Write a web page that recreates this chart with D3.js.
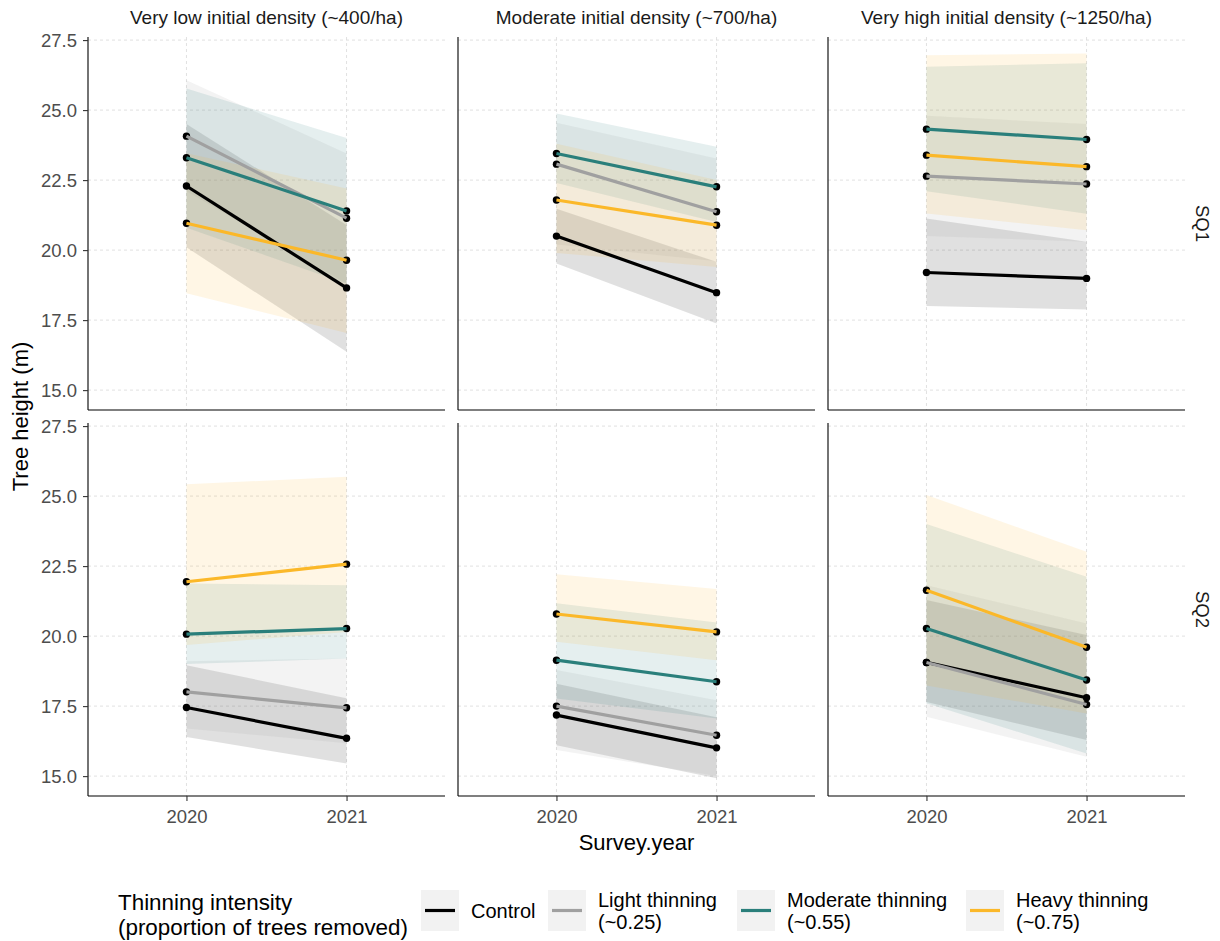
<!DOCTYPE html>
<html>
<head>
<meta charset="utf-8">
<script src="https://cdn.jsdelivr.net/npm/d3@7"></script>
<style>
  body { margin: 0; background: #fff; }
  svg { display: block; font-family: "Liberation Sans", Arial, sans-serif; }
</style>
</head>
<body>
<svg id="chart" width="1220" height="941"></svg>
<script>
// ---------------- DATA ----------------
const densityLabels = ["Very low initial density (~400/ha)", "Moderate initial density (~700/ha)", "Very high initial density (~1250/ha)"];
const sqLabels = ["SQ1", "SQ2"];
const treatments = ["Control", "Light thinning\n(~0.25)", "Moderate thinning\n(~0.55)", "Heavy thinning\n(~0.75)"];
const years = [2020, 2021];
const yTicks = [15, 17.5, 20, 22.5, 25, 27.5];
const xTicks = [2020, 2021];

// panel order: SQ1-VeryLow, SQ1-Moderate, SQ1-VeryHigh, SQ2-VeryLow, SQ2-Moderate, SQ2-VeryHigh
// each entry: [value2020, value2021]
const meanControl  = [[22.29, 18.65], [20.50, 18.48], [19.20, 18.99], [17.45, 16.35], [17.18, 16.01], [19.06, 17.80]];
const loControl    = [[20.10, 16.37], [19.52, 17.38], [18.00, 17.88], [16.40, 15.45], [16.10, 14.92], [17.65, 16.29]];
const hiControl    = [[24.50, 20.90], [21.48, 19.58], [21.13, 20.30], [18.96, 17.78], [18.30, 17.10], [21.29, 20.04]];

const meanLight    = [[24.07, 21.14], [23.07, 21.37], [22.64, 22.36], [18.01, 17.44], [17.50, 16.46], [19.06, 17.56]];
const loLight      = [[22.10, 18.80], [20.20, 19.60], [20.50, 20.30], [16.70, 16.17], [15.93, 15.00], [17.12, 15.69]];
const hiLight      = [[26.07, 23.45], [24.55, 23.27], [24.80, 24.50], [19.10, 19.20], [18.79, 17.71], [21.82, 20.45]];

const meanModerate = [[23.30, 21.40], [23.45, 22.26], [24.32, 23.95], [20.07, 20.27], [19.14, 18.37], [20.27, 18.43]];
const loModerate   = [[20.80, 18.80], [22.40, 21.00], [22.10, 21.30], [19.00, 19.20], [17.77, 17.06], [17.60, 15.81]];
const hiModerate   = [[25.77, 24.00], [24.88, 23.69], [26.55, 26.67], [21.88, 21.82], [21.17, 20.49], [24.00, 22.12]];

const meanHeavy    = [[20.96, 19.64], [21.79, 20.89], [23.39, 22.98], [21.94, 22.57], [20.79, 20.15], [21.64, 19.60]];
const loHeavy      = [[18.46, 17.04], [19.90, 19.40], [21.31, 20.71], [19.68, 20.15], [19.80, 19.14], [18.24, 17.24]];
const hiHeavy      = [[23.46, 22.20], [23.80, 22.50], [26.96, 27.02], [25.42, 25.69], [22.21, 21.68], [25.04, 23.01]];

const colors = ["#000000", "#a0a0a0", "#2a7f7b", "#fbb829"];

// ---------------- LAYOUT ----------------
const svg = d3.select("#chart");
const colX = [88, 458, 828], panelW = 357;
const rowY = [37, 423], panelH = 373;

const x = d3.scaleLinear().domain([2019.385, 2021.615]).range([0, panelW]);
const y = d3.scaleLinear().domain([14.29, 27.61]).range([panelH, 0]);

const seriesMean = [meanControl, meanLight, meanModerate, meanHeavy];
const seriesLo = [loControl, loLight, loModerate, loHeavy];
const seriesHi = [hiControl, hiLight, hiModerate, hiHeavy];

const area = d3.area().x(d => x(d.year)).y0(d => y(d.lo)).y1(d => y(d.hi));
const line = d3.line().x(d => x(d.year)).y(d => y(d.v));

for (let r = 0; r < 2; r++) {
  for (let c = 0; c < 3; c++) {
    const p = r * 3 + c;
    const g = svg.append("g").attr("transform", `translate(${colX[c]},${rowY[r]})`);

    // grid
    g.selectAll(".gy").data(yTicks).enter().append("line")
      .attr("x1", 0).attr("x2", panelW)
      .attr("y1", d => y(d)).attr("y2", d => y(d))
      .attr("stroke", "#d9d9d9").attr("stroke-width", 0.8).attr("stroke-dasharray", "3,3");
    g.selectAll(".gx").data(xTicks).enter().append("line")
      .attr("y1", 0).attr("y2", panelH)
      .attr("x1", d => x(d)).attr("x2", d => x(d))
      .attr("stroke", "#d9d9d9").attr("stroke-width", 0.8).attr("stroke-dasharray", "3,3");

    // ribbons
    for (let t = 0; t < 4; t++) {
      const data = years.map((yr, i) => ({ year: yr, lo: seriesLo[t][p][i], hi: seriesHi[t][p][i] }));
      g.append("path").attr("d", area(data)).attr("fill", colors[t]).attr("fill-opacity", 0.12);
    }
    // points
    for (let t = 0; t < 4; t++) {
      const data = years.map((yr, i) => ({ year: yr, v: seriesMean[t][p][i] }));
      g.selectAll(null).data(data).enter().append("circle")
        .attr("cx", d => x(d.year)).attr("cy", d => y(d.v)).attr("r", 3.7).attr("fill", "#000");
    }
    // lines
    for (let t = 0; t < 4; t++) {
      const data = years.map((yr, i) => ({ year: yr, v: seriesMean[t][p][i] }));
      g.append("path").attr("d", line(data)).attr("fill", "none")
        .attr("stroke", colors[t]).attr("stroke-width", 3.2);
    }

    // axes lines
    g.append("line").attr("x1", 0).attr("x2", 0).attr("y1", 0).attr("y2", panelH)
      .attr("stroke", "#000").attr("stroke-width", 1.1);
    g.append("line").attr("x1", 0).attr("x2", panelW).attr("y1", panelH).attr("y2", panelH)
      .attr("stroke", "#000").attr("stroke-width", 1.1);

    if (c === 0) {
      const ya = d3.axisLeft(y).tickValues(yTicks).tickFormat(d3.format(".1f")).tickSize(5).tickPadding(6);
      const ag = g.append("g").call(ya);
      ag.select(".domain").remove();
      ag.selectAll("line").attr("stroke", "#333").attr("stroke-width", 1.1);
      ag.selectAll("text").attr("fill", "#4d4d4d").style("font-size", "18.5px")
        .style("font-family", "Liberation Sans, Arial, sans-serif");
    }
    if (r === 1) {
      const xa = d3.axisBottom(x).tickValues(xTicks).tickFormat(d3.format("d")).tickSize(5).tickPadding(9);
      const ag = g.append("g").attr("transform", `translate(0,${panelH})`).call(xa);
      ag.select(".domain").remove();
      ag.selectAll("line").attr("stroke", "#333").attr("stroke-width", 1.1);
      ag.selectAll("text").attr("fill", "#4d4d4d").style("font-size", "18.5px")
        .style("font-family", "Liberation Sans, Arial, sans-serif");
    }
    if (r === 0) {
      svg.append("text").attr("x", colX[c] + panelW / 2).attr("y", 24)
        .attr("text-anchor", "middle").attr("fill", "#1a1a1a").style("font-size", "19px")
        .text(densityLabels[c]);
    }
  }
  svg.append("text")
    .attr("transform", `translate(1196,${rowY[r] + panelH / 2}) rotate(90)`)
    .attr("text-anchor", "middle").attr("fill", "#1a1a1a").style("font-size", "18.5px")
    .text(sqLabels[r]);
}

// axis titles
svg.append("text").attr("x", (colX[0] + colX[2] + panelW) / 2).attr("y", 850)
  .attr("text-anchor", "middle").attr("fill", "#000").style("font-size", "22px").text("Survey.year");
svg.append("text").attr("transform", `translate(28,${(rowY[0] + rowY[1] + panelH) / 2}) rotate(-90)`)
  .attr("text-anchor", "middle").attr("fill", "#000").style("font-size", "22px").text("Tree height (m)");

// legend
const lg = svg.append("g");
lg.append("text").attr("x", 118).attr("y", 910).style("font-size", "22.4px").attr("fill", "#000").text("Thinning intensity");
lg.append("text").attr("x", 118).attr("y", 935).style("font-size", "22.4px").attr("fill", "#000").text("(proportion of trees removed)");
const keyX = [421, 548, 737, 966];
treatments.forEach((t, i) => {
  const kg = lg.append("g").attr("transform", `translate(${keyX[i]},890)`);
  kg.append("rect").attr("width", 38).attr("height", 41).attr("fill", "#f2f2f2");
  kg.append("line").attr("x1", 4).attr("x2", 34).attr("y1", 20.5).attr("y2", 20.5)
    .attr("stroke", colors[i]).attr("stroke-width", 3.2);
  const parts = t.split("\n");
  const tx = kg.append("text").attr("x", 50).style("font-size", "20px").attr("fill", "#000");
  if (parts.length === 1) {
    tx.attr("y", 28).text(parts[0]);
  } else {
    tx.append("tspan").attr("x", 50).attr("y", 17).text(parts[0]);
    tx.append("tspan").attr("x", 50).attr("y", 39).text(parts[1]);
  }
});
</script>
</body>
</html>
